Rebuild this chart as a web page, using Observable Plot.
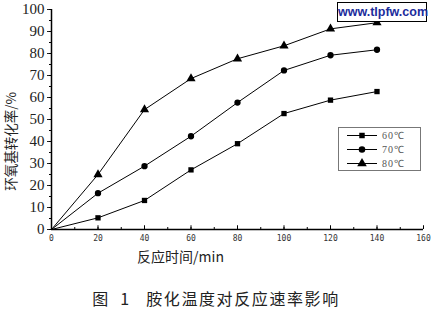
<!DOCTYPE html>
<html><head><meta charset="utf-8">
<script src="https://cdn.jsdelivr.net/npm/d3@7"></script>
<script src="https://cdn.jsdelivr.net/npm/@observablehq/plot@0.6"></script>
<style>
html,body{margin:0;padding:0;background:#fff;}
#wrap{position:relative;width:432px;height:312px;overflow:hidden;}
#caption{position:absolute;left:0;top:286px;width:432px;text-align:center;font:16px "Noto Sans CJK SC";color:#222;letter-spacing:1.6px;white-space:pre;}
#legend{position:absolute;left:338px;top:127px;}
#wm{position:absolute;left:337px;top:2px;width:88px;height:18px;border:1.5px solid #000;background:#fff;font:bold 12.5px "Liberation Sans",Arial;color:#1c2c9c;text-align:center;line-height:18px;}
</style></head>
<body><div id="wrap"></div>
<script>
const times = [0, 20, 40, 60, 80, 100, 120, 140];
const conv60 = [0, 5.3, 13.2, 27.1, 39.0, 52.7, 58.8, 62.7];
const conv70 = [0, 16.5, 28.8, 42.4, 57.7, 72.3, 79.2, 81.7];
const conv80 = [0, 25.0, 54.5, 68.6, 77.6, 83.5, 91.2, 94.0];
const seriesNames = ["60℃", "70℃", "80℃"];
const symbols = ["square", "circle", "triangle"];
const xTicks = [0, 20, 40, 60, 80, 100, 120, 140, 160];
const yTicks = [0, 10, 20, 30, 40, 50, 60, 70, 80, 90, 100];
const xLabel = "反应时间/min";
const yLabel = "环氧基转化率/%";
const captionText = "图  1   胺化温度对反应速率影响";

const all = [conv60, conv70, conv80];
const data = [];
all.forEach((arr, i) => arr.forEach((v, j) => data.push({t: times[j], c: v, s: seriesNames[i]})));
const xMinor = d3.range(0, 161, 10);
const yMinor = d3.range(0, 101, 5);
const rs = {"60℃": 2.8, "70℃": 3.1, "80℃": 3.6};

const plot = Plot.plot({
  width: 432, height: 272,
  marginTop: 9, marginBottom: 43, marginLeft: 51, marginRight: 9,
  x: {domain: [0, 160]},
  y: {domain: [0, 100]},
  symbol: {domain: seriesNames, range: symbols},
  marks: [
    Plot.axisY({ticks: yTicks, tickSize: 4, tickPadding: 3, fontSize: 15, fontFamily: "Liberation Serif", label: null, color: "#222"}),
    Plot.axisY({ticks: yMinor, tickSize: 2, tickFormat: () => "", label: null}),
    Plot.axisX({ticks: xTicks, tickSize: 0, tickPadding: 6, fontSize: 8, fontFamily: "DejaVu Sans Mono", label: null, color: "#333"}),
    Plot.ruleX(xMinor, {x: d => d, y1: 0, y2: 0.9, stroke: "#000"}),
    Plot.ruleX(xTicks, {x: d => d, y1: 0, y2: 1.7, stroke: "#000"}),
    Plot.ruleY([0], {stroke: "#000", strokeWidth: 1.5}),
    Plot.ruleX([0], {stroke: "#000", strokeWidth: 1.5}),
    Plot.line(data, {x: "t", y: "c", z: "s", stroke: "#000", strokeWidth: 1}),
    Plot.dot(data.filter(d => d.t > 0), {x: "t", y: "c", symbol: "s", r: d => rs[d.s], fill: "#000", stroke: "none"}),
    Plot.text([xLabel], {text: d => d, frameAnchor: "bottom-left", dx: 129, dy: 32, textAnchor: "middle", fontSize: 14, fontFamily: "Noto Sans CJK SC", fill: "#222"}),
    Plot.text([yLabel], {text: d => d, frameAnchor: "left", dx: -40, dy: 22, rotate: -90, textAnchor: "middle", fontSize: 13.5, fontFamily: "Noto Sans CJK SC", fill: "#222"})
  ]
});
const wrap = document.getElementById("wrap");
wrap.appendChild(plot);

const cap = document.createElement("div");
cap.id = "caption"; cap.textContent = captionText;
wrap.appendChild(cap);

const wm = document.createElement("div");
wm.id = "wm"; wm.textContent = "www.tlpfw.com";
wrap.appendChild(wm);

// legend
const lg = d3.create("svg").attr("id", "legend").attr("width", 84).attr("height", 45);
lg.append("rect").attr("x", 0.5).attr("y", 0.5).attr("width", 82).attr("height", 43).attr("fill", "#fff").attr("stroke", "#777");
const symGen = {square: d3.symbolSquare, circle: d3.symbolCircle, triangle: d3.symbolTriangle};
const sizes = [30, 34, 40];
seriesNames.forEach((n, i) => {
  const y = 8.5 + i * 14;
  lg.append("line").attr("x1", 9).attr("x2", 39).attr("y1", y).attr("y2", y).attr("stroke", "#000");
  lg.append("path").attr("d", d3.symbol(symGen[symbols[i]], sizes[i])()).attr("transform", `translate(24,${y})`).attr("fill", "#000");
  lg.append("text").attr("x", 44).attr("y", y + 3.5).attr("font-size", 10).attr("font-family", "Liberation Serif").attr("fill", "#555").attr("letter-spacing", 1).text(n);
});
wrap.appendChild(lg.node());
</script></body></html>
